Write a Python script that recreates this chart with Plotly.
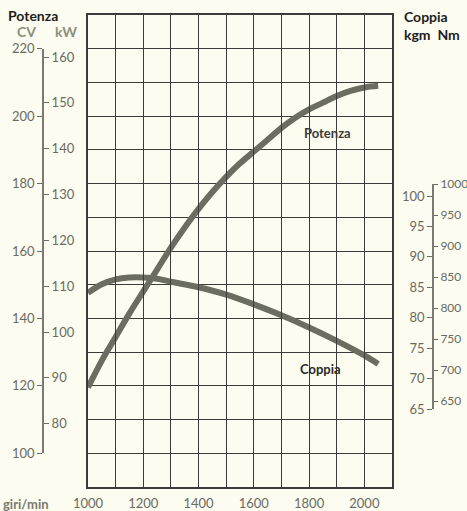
import plotly.graph_objects as go

# ---- data ----
potenza_rpm = [1000, 1050, 1100, 1150, 1200, 1250, 1300, 1350, 1400, 1450, 1500,
               1550, 1600, 1650, 1700, 1750, 1800, 1850, 1900, 1950, 2000, 2050]
potenza_cv = [119.5, 127.5, 134.5, 141.5, 148.0, 154.5, 161.0, 167.0, 172.5, 177.5, 182.0,
              186.0, 189.5, 193.0, 196.5, 199.5, 202.0, 204.0, 206.0, 207.5, 208.5, 209.0]

coppia_rpm = [1000, 1050, 1100, 1150, 1200, 1250, 1300, 1400, 1500, 1600, 1700,
              1800, 1900, 2000, 2050]
coppia_kgm = [84.1, 85.5, 86.3, 86.6, 86.6, 86.4, 85.9, 85.0, 83.8, 82.2, 80.4,
              78.4, 76.2, 73.8, 72.4]

x_grid = list(range(1000, 2101, 100))
x_labels = ["1000", "", "1200", "", "1400", "", "1600", "", "1800", "", "2000", ""]
cv_ticks = [100, 120, 140, 160, 180, 200, 220]
kw_ticks = [80, 90, 100, 110, 120, 130, 140, 150, 160]
kgm_ticks = [65, 70, 75, 80, 85, 90, 95, 100]
nm_ticks = [650, 700, 750, 800, 850, 900, 950, 1000]

CV_TO_KW = 0.7355
KGM_TO_NM = 9.80665

W, H = 467, 511
def px(x):
    return x / W
def py(y):
    return 1 - y / H

BG = "#fcfcf0"
CURVE = "#6c6d61"
GRID = "#3c3c3c"
TICKC = "#6a6a62"
FONT = "Lato"

cv_range = [100, 220]
kgm_range = [65, 1000 / KGM_TO_NM]

fig = go.Figure()
fig.add_trace(go.Scatter(x=potenza_rpm, y=potenza_cv, mode="lines",
                         line=dict(color=CURVE, width=6, shape="spline", smoothing=1.0),
                         xaxis="x", yaxis="y", hoverinfo="skip"))
fig.add_trace(go.Scatter(x=coppia_rpm, y=coppia_kgm, mode="lines",
                         line=dict(color=CURVE, width=6, shape="spline", smoothing=1.0),
                         xaxis="x", yaxis="y4", hoverinfo="skip"))
# helper (empty) traces so the scale axes are drawn
for ax in ["y2", "y3", "y5"]:
    fig.add_trace(go.Scatter(x=[None], y=[None], mode="lines", xaxis="x", yaxis=ax,
                             hoverinfo="skip"))

tickfont = dict(family=FONT, size=13, color=TICKC)
tickfont_small = dict(family=FONT, size=12, color=TICKC)
scale_dom = [py(453.3), py(48.7)]
kgm_dom = [py(409), py(184)]

fig.update_layout(
    width=W, height=H,
    margin=dict(l=0, r=0, t=0, b=0),
    paper_bgcolor=BG, plot_bgcolor="rgba(0,0,0,0)",
    showlegend=False,
    xaxis=dict(domain=[px(88), px(392)], range=[1000, 2100],
               tickvals=x_grid, ticktext=x_labels,
               showgrid=True, gridcolor=GRID, gridwidth=1.3,
               showline=True, linecolor=GRID, linewidth=1.6, mirror=True,
               ticks="outside", ticklen=4, tickcolor="rgba(0,0,0,0)",
               tickfont=tickfont, zeroline=False, automargin=False, fixedrange=True),
    yaxis=dict(domain=[py(487), py(15)], range=[90, 230], dtick=10,
               showgrid=True, gridcolor=GRID, gridwidth=1.3,
               showline=True, linecolor=GRID, linewidth=1.6, mirror=True,
               showticklabels=False, zeroline=False, automargin=False, fixedrange=True),
    yaxis2=dict(domain=scale_dom, range=cv_range, anchor="free", position=px(43),
                side="left", tickvals=cv_ticks, ticks="outside", ticklen=5,
                tickcolor=TICKC, tickwidth=1.3, showline=True, linecolor="#7a7a72",
                linewidth=1.6, showgrid=False, zeroline=False, tickfont=tickfont,
                automargin=False, fixedrange=True),
    yaxis3=dict(domain=scale_dom, range=[cv_range[0] * CV_TO_KW, cv_range[1] * CV_TO_KW],
                anchor="free", position=px(43), side="right", tickvals=kw_ticks,
                ticks="outside", ticklen=5, tickcolor=TICKC, tickwidth=1.3,
                showline=False, showgrid=False, zeroline=False, tickfont=tickfont,
                automargin=False, fixedrange=True),
    yaxis4=dict(domain=kgm_dom, range=kgm_range, anchor="free", position=px(433),
                side="left", tickvals=kgm_ticks, ticks="outside", ticklen=5,
                tickcolor=TICKC, tickwidth=1.3, showline=True, linecolor="#7a7a72",
                linewidth=1.6, showgrid=False, zeroline=False, tickfont=tickfont,
                automargin=False, fixedrange=True),
    yaxis5=dict(domain=kgm_dom, range=[kgm_range[0] * KGM_TO_NM, kgm_range[1] * KGM_TO_NM],
                anchor="free", position=px(433), side="right", tickvals=nm_ticks,
                ticks="outside", ticklen=4, tickcolor=TICKC, tickwidth=1.3,
                showline=False, showgrid=False, zeroline=False, tickfont=tickfont_small,
                automargin=False, fixedrange=True),
)

def note(text, x, y, color="#1e1e1e", size=13, xanchor="left"):
    fig.add_annotation(text=text, x=px(x), y=py(y), xref="paper", yref="paper",
                       showarrow=False, xanchor=xanchor, yanchor="middle",
                       font=dict(family=FONT, size=size, color=color))

note("<b>Potenza</b>", 6, 15, size=14)
note("<b>CV</b>", 15, 31, color="#8b8f7c", size=14)
note("<b>kW</b>", 53, 31, color="#8b8f7c", size=14)
note("<b>Coppia</b>", 402, 17, size=14)
note("<b>kgm  Nm</b>", 402, 34, size=14)
note("<b>giri/min</b>", 1, 504, color="#7a7a70", size=13)
note("<b>Potenza</b>", 327, 133, color="#3a3a3a", xanchor="center")
note("<b>Coppia</b>", 320, 369, color="#2a2a2a", xanchor="center")

fig.write_html("out.html", config={"displayModeBar": False},
               post_script="document.body.style.margin='0';document.body.style.overflow='hidden';")
